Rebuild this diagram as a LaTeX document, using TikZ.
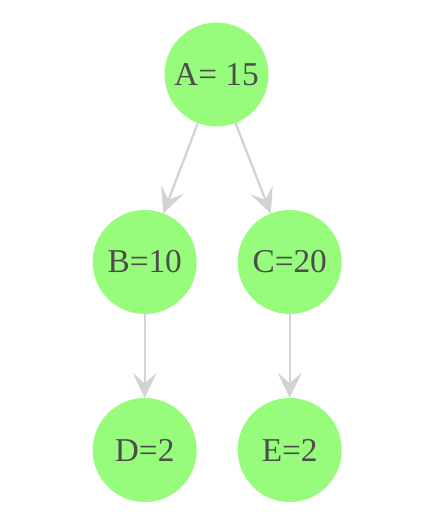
\documentclass[tikz,border=0pt]{standalone}
\usepackage{fontspec}
\setmainfont{Liberation Serif}
\usetikzlibrary{arrows.meta}
\definecolor{cNodo}{HTML}{97FB7B}
\definecolor{cTexto}{HTML}{4D4D4D}
\definecolor{cArco}{HTML}{D3D3D3}

\begin{document}
\begin{tikzpicture}[
    x=0.75pt, y=0.75pt,
    nodo/.style={circle, fill=cNodo, minimum size=78pt, inner sep=0pt,
                 outer sep=0pt, text=cTexto, font=\fontsize{25}{29}\selectfont},
    arco/.style={-{Stealth[length=19pt, width=18pt, inset=8pt]},
                 line width=1.7pt, cArco},
]

% ===================== Marco =====================
\useasboundingbox (0,0) rectangle (421,526);

% ===================== Nodos =====================
\node[nodo] (A) at (216.5,451.5) {A= 15};
\node[nodo] (B) at (144.7,264.0) {B=10};
\node[nodo] (C) at (289.7,264.0) {C=20};
\node[nodo] (D) at (144.7,76.0) {D=2};
\node[nodo] (E) at (289.7,76.0) {E=2};

% ===================== Arcos =====================
\draw[arco] (A) -- (B);
\draw[arco] (A) -- (C);
\draw[arco] (B) -- (D);
\draw[arco] (C) -- (E);

\end{tikzpicture}
\end{document}
